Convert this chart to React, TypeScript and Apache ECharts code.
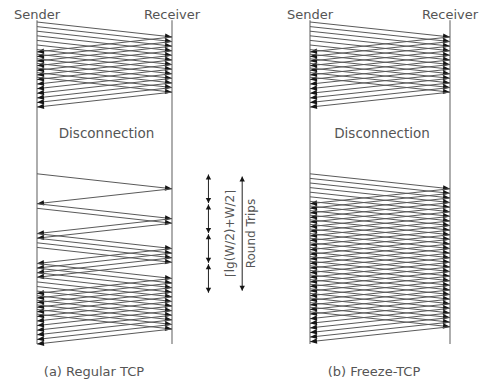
import React, { useEffect, useRef } from "react";
import * as echarts from "echarts";

// ---- text ----
const endpointLabels = ["Sender", "Receiver"];
const panelCaptions = ["(a) Regular TCP", "(b) Freeze-TCP"];
const gapLabel = "Disconnection";
const roundTripFormula = "⌈lg(W/2)+W/2⌉";
const roundTripUnit = "Round Trips";

// ---- timing (time unit = one packet interval) ----
const oneWayDelay = 3.25;
const timelineStart = -0.4;
const timelineEnd = 70;
const gapLabelTime = 24.2;

// packets sent before the disconnection (both panels)
const sendsBefore = [0, 1, 2, 3, 4, 5, 6, 7, 8, 9, 10, 11, 12];
// Regular TCP: slow start after reconnection
const regularSendsAfter = [
  33, 39.5, 40.5, 46, 47, 48, 49, 52.5, 53.5, 54.5, 55.5, 56.5, 57.5, 58.5,
  59.5, 60.5, 61.5, 62.5, 63.5,
];
// Freeze-TCP: full window right after reconnection
const freezeSendsAfter = [
  33, 34, 35, 36, 37, 38, 39, 40, 41, 42, 43, 44, 45, 46, 47, 48, 49, 50, 51,
  52, 53, 54, 55, 56, 57, 58, 59, 60, 61, 62, 63,
];
// round-trip boundaries of the slow start
const slowStartRounds = [33, 39.5, 46, 52.5, 59];

function buildMessages(sends: number[]) {
  const out: number[][] = [];
  sends.forEach((t) => {
    out.push([0, t, 1, t + oneWayDelay]);
    out.push([1, t + oneWayDelay, 0, t + 2 * oneWayDelay]);
  });
  return out;
}

const LINE = "#5a5a5a";
const HEAD = "#151515";
const TEXT = "#555";
const FONT = "DejaVu Sans";

function arrowHead(tip: number[], from: number[], len: number, half: number) {
  const dx = tip[0] - from[0];
  const dy = tip[1] - from[1];
  const l = Math.hypot(dx, dy) || 1;
  const ux = dx / l;
  const uy = dy / l;
  const bx = tip[0] - ux * len;
  const by = tip[1] - uy * len;
  return {
    type: "polygon",
    shape: {
      points: [
        [tip[0], tip[1]],
        [bx - uy * half, by + ux * half],
        [bx + uy * half, by - ux * half],
      ],
    },
    style: { fill: HEAD },
  };
}

function messageItem(params: any, api: any) {
  const a = api.coord([api.value(0), api.value(1)]);
  const b = api.coord([api.value(2), api.value(3)]);
  return {
    type: "group",
    children: [
      {
        type: "line",
        shape: { x1: a[0], y1: a[1], x2: b[0], y2: b[1] },
        style: { stroke: LINE, lineWidth: 1 },
      },
      arrowHead(b, a, 7, 2.7),
    ],
  };
}

function timelineItem(params: any, api: any) {
  const a = api.coord([api.value(0), api.value(1)]);
  const b = api.coord([api.value(0), api.value(2)]);
  return {
    type: "line",
    shape: { x1: a[0], y1: a[1], x2: b[0], y2: b[1] },
    style: { stroke: "#777", lineWidth: 1.2 },
  };
}

function doubleArrowItem(params: any, api: any) {
  const a = api.coord([api.value(0), api.value(1)]);
  const b = api.coord([api.value(0), api.value(2)]);
  return {
    type: "group",
    children: [
      {
        type: "line",
        shape: { x1: a[0], y1: a[1], x2: b[0], y2: b[1] },
        style: { stroke: "#222", lineWidth: 1 },
      },
      arrowHead(a, b, 5, 2.7),
      arrowHead(b, a, 5, 2.7),
    ],
  };
}

function bracketItem(params: any, api: any) {
  const t0 = api.value(1);
  const t1 = api.value(2);
  const mid = (t0 + t1) / 2;
  const a = api.coord([api.value(0), t0]);
  const b = api.coord([api.value(0), t1]);
  const p1 = api.coord([1.43, mid]);
  const p2 = api.coord([1.585, mid]);
  const textStyle = {
    fill: TEXT,
    fontSize: 12,
    fontFamily: FONT,
    align: "center",
    verticalAlign: "middle",
  };
  return {
    type: "group",
    children: [
      {
        type: "line",
        shape: { x1: a[0], y1: a[1], x2: b[0], y2: b[1] },
        style: { stroke: "#222", lineWidth: 1 },
      },
      arrowHead(a, b, 5, 2.7),
      arrowHead(b, a, 5, 2.7),
      {
        type: "text",
        x: p1[0],
        y: p1[1],
        rotation: Math.PI / 2,
        style: { ...textStyle, text: roundTripFormula },
      },
      {
        type: "text",
        x: p2[0],
        y: p2[1],
        rotation: Math.PI / 2,
        style: { ...textStyle, text: roundTripUnit },
      },
    ],
  };
}

export default function App() {
  const ref = useRef<HTMLDivElement>(null);
  useEffect(() => {
    if (!ref.current) return;
    const chart = echarts.init(ref.current, null, { renderer: "svg" });
    const roundSegments = slowStartRounds.slice(0, -1).map((t, i) => [
      1.27,
      t + 0.15,
      slowStartRounds[i + 1] - 0.15,
    ]);
    const panels = [
      { sends: sendsBefore.concat(regularSendsAfter) },
      { sends: sendsBefore.concat(freezeSendsAfter) },
    ];
    const series: any[] = [];
    panels.forEach((p, i) => {
      series.push({
        type: "custom",
        xAxisIndex: i,
        yAxisIndex: i,
        silent: true,
        clip: false,
        renderItem: timelineItem,
        data: [
          [0, timelineStart, timelineEnd],
          [1, timelineStart, timelineEnd],
        ],
      });
      series.push({
        type: "custom",
        xAxisIndex: i,
        yAxisIndex: i,
        silent: true,
        clip: false,
        renderItem: messageItem,
        data: buildMessages(p.sends),
      });
    });
    series.push({
      type: "custom",
      xAxisIndex: 0,
      yAxisIndex: 0,
      silent: true,
      clip: false,
      renderItem: doubleArrowItem,
      data: roundSegments,
    });
    series.push({
      type: "custom",
      xAxisIndex: 0,
      yAxisIndex: 0,
      silent: true,
      clip: false,
      renderItem: bracketItem,
      data: [[1.52, slowStartRounds[0] + 0.6, slowStartRounds[slowStartRounds.length - 1] - 0.6]],
    });

    const grids = [
      { left: 37, top: 22, width: 135, height: 322 },
      { left: 310, top: 22, width: 140, height: 322 },
    ];
    const labelStyle = { fill: TEXT, fontSize: 13, fontFamily: FONT };
    const graphic: any[] = [];
    grids.forEach((g, i) => {
      graphic.push({
        type: "text",
        x: g.left,
        y: 14,
        style: { ...labelStyle, text: endpointLabels[0], align: "center", verticalAlign: "middle" },
      });
      graphic.push({
        type: "text",
        x: g.left + g.width,
        y: 14,
        style: { ...labelStyle, text: endpointLabels[1], align: "center", verticalAlign: "middle" },
      });
      graphic.push({
        type: "text",
        x: g.left + g.width / 2 + 2,
        y: g.top + gapLabelTime * (g.height / 70),
        style: { ...labelStyle, fontSize: 13.5, text: gapLabel, align: "center", verticalAlign: "middle" },
      });
    });
    graphic.push({
      type: "text",
      x: 94,
      y: 371,
      style: { ...labelStyle, text: panelCaptions[0], align: "center", verticalAlign: "middle" },
    });
    graphic.push({
      type: "text",
      x: 374,
      y: 371,
      style: { ...labelStyle, text: panelCaptions[1], align: "center", verticalAlign: "middle" },
    });

    chart.setOption({
      animation: false,
      backgroundColor: "#fff",
      grid: grids,
      xAxis: grids.map((g, i) => ({
        type: "value",
        gridIndex: i,
        min: 0,
        max: 1,
        show: false,
      })),
      yAxis: grids.map((g, i) => ({
        type: "value",
        gridIndex: i,
        min: 0,
        max: timelineEnd,
        inverse: true,
        show: false,
      })),
      series,
      graphic,
    });
    return () => chart.dispose();
  }, []);
  return <div ref={ref} style={{ width: 483, height: 382, position: "absolute", left: 0, top: 0 }} />;
}
